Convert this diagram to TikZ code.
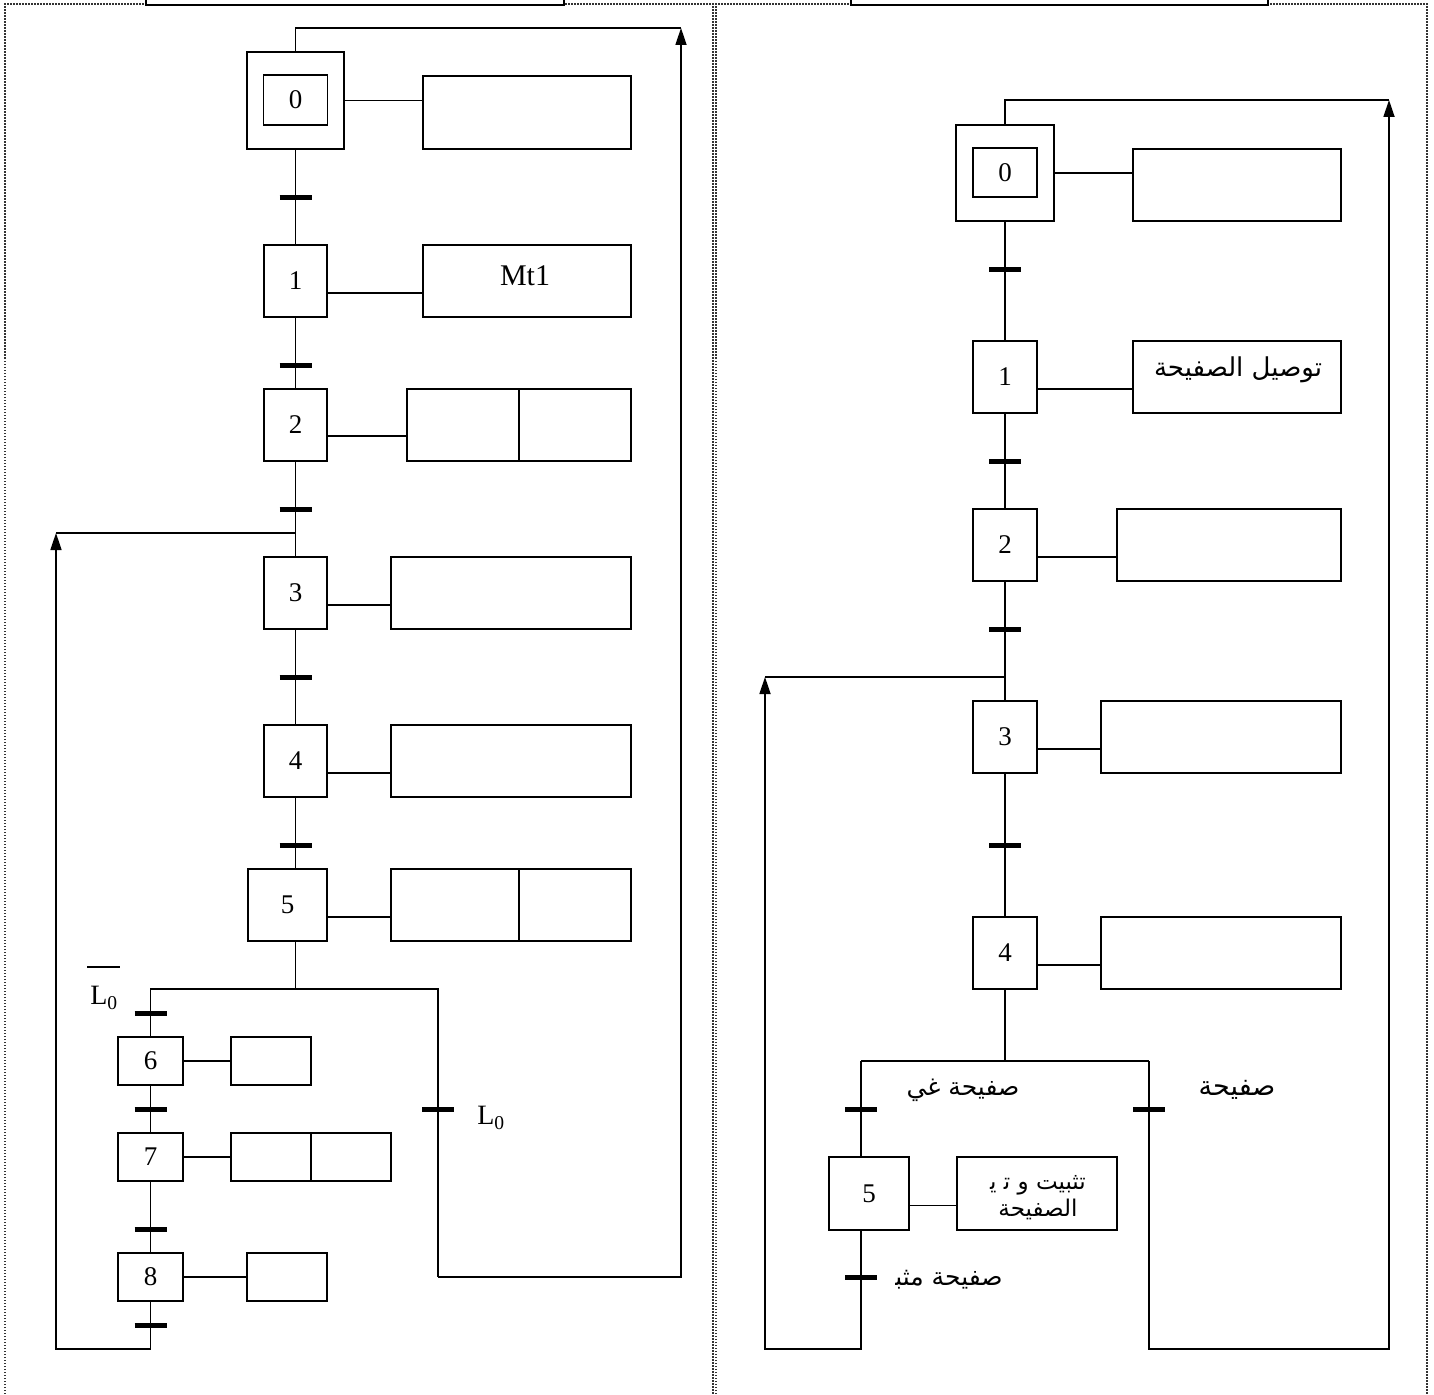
\documentclass[tikz,border=0pt]{standalone}
\usepackage{fontspec}
\setmainfont{Liberation Serif}
\newfontfamily\arabicfont[Script=Arabic]{DejaVu Sans}
\TeXXeTstate=1
\usetikzlibrary{arrows.meta}
\tikzset{
  ln/.style={line width=1.7pt},
  stepbox/.style={draw, line width=1.7pt, inner sep=0pt, font=\fontsize{27}{27}\selectfont},
  trbar/.style={line width=5pt},
  arr/.style={line width=1.7pt, -{Triangle[width=11pt,length=17pt]}},
  frame/.style={line width=1.5pt, dash pattern=on 1.5pt off 1.5pt, black!80},
  hdr/.style={line width=2.5pt, fill=white},
  lbl/.style={inner sep=0pt, font=\fontsize{28}{28}\selectfont},
  ar/.style={inner sep=0pt, font=\arabicfont\fontsize{25}{28}\selectfont, align=center},
}
\newcommand\mkbox[7][]{%
  \pgfmathsetmacro\mkbw{#5-#3}\pgfmathsetmacro\mkbh{#6-#4}%
  \pgfmathsetmacro\mkbcx{(#3+#5)/2}\pgfmathsetmacro\mkbcy{(#4+#6)/2}%
  \node[stepbox,#1,minimum width=\mkbw pt,minimum height=\mkbh pt] (#2) at (\mkbcx,\mkbcy) {#7};}
\newcommand\trn[2]{\draw[trbar] ({#1-16},#2) -- ({#1+16},#2);}
\begin{document}
\begin{tikzpicture}[x=1pt,y=-1pt]
\useasboundingbox (0,0) rectangle (1434,1394);
% frame
\draw[frame] (5,1394) -- (5,4) -- (713,4) -- (713,1394);
\draw[frame] (716,1394) -- (716,4) -- (1427,4) -- (1427,1394);
\draw[hdr] (146,-10) rectangle (564,5);
\draw[hdr] (851,-10) rectangle (1268,5);

% ================= LEFT PANEL =================
\mkbox{L0}{247}{52}{344}{149}{}
\mkbox{L0i}{263.5}{75}{327.5}{125}{0}
\mkbox{A0}{423}{76}{631}{149}{}
\mkbox{L1}{264}{245}{327}{317}{1}
\mkbox{A1}{423}{245}{631}{317}{}
\node[lbl, font=\fontsize{30}{30}\selectfont] (mt) at (525,276) {Mt1};
\mkbox{L2}{264}{389}{327}{461}{2}
\mkbox{A2a}{407}{389}{519}{461}{}
\mkbox{A2b}{519}{389}{631}{461}{}
\mkbox{L3}{264}{557}{327}{629}{3}
\mkbox{A3}{391}{557}{631}{629}{}
\mkbox{L4}{264}{725}{327}{797}{4}
\mkbox{A4}{391}{725}{631}{797}{}
\mkbox{L5}{248}{869}{327}{941}{5}
\mkbox{A5a}{391}{869}{519}{941}{}
\mkbox{A5b}{519}{869}{631}{941}{}
\mkbox{L6}{118}{1037}{183}{1085}{6}
\mkbox{A6}{231}{1037}{311}{1085}{}
\mkbox{L7}{118}{1133}{183}{1181}{7}
\mkbox{A7a}{231}{1133}{311}{1181}{}
\mkbox{A7b}{311}{1133}{391}{1181}{}
\mkbox{L8}{118}{1253}{183}{1301}{8}
\mkbox{A8}{247}{1253}{327}{1301}{}

% links
\draw[ln] (L0.east) -- (L0.east -| A0.west);
\draw[ln] ([yshift=-12pt]L1.east) -- ([yshift=-12pt]A1.west);
\draw[ln] ([yshift=-11pt]L2.east) -- ([yshift=-11pt]A2a.west);
\draw[ln] ([yshift=-12pt]L3.east) -- ([yshift=-12pt]A3.west);
\draw[ln] ([yshift=-12pt]L4.east) -- ([yshift=-12pt]A4.west);
\draw[ln] ([yshift=-12pt]L5.east) -- ([yshift=-12pt]A5a.west);
\draw[ln] (L6.east) -- (A6.west);
\draw[ln] (L7.east) -- (A7a.west);
\draw[ln] (L8.east) -- (A8.west);

% main sequence
\draw[ln] (L0.south) -- (L1.north);
\draw[ln] (L1.south) -- (L2.north);
\draw[ln] (L2.south) -- (L3.north);
\draw[ln] (L3.south) -- (L4.north);
\draw[ln] (L4.south) -- (L4.south |- L5.north);
\coordinate (dL) at (295.5,989);
\coordinate (rbL) at (438,1277);
\coordinate (tL) at (681,28);
\coordinate (lpL) at (56,533);
\coordinate (bL) at (56,1349);
\draw[ln] (L4.south |- L5.south) -- (dL);
\draw[ln] (L6.north) |- (dL);
\draw[ln] (dL) -| (rbL);
\draw[arr] (rbL) -| (tL);
\draw[ln] (tL) -| (L0.north);
\draw[ln] (L6.south) -- (L7.north);
\draw[ln] (L7.south) -- (L8.north);
\draw[arr] (L8.south) |- (bL) -- (lpL);
\draw[ln] (lpL) -- (lpL -| L3.north);

% transitions
\trn{295.5}{197} \trn{295.5}{365} \trn{295.5}{509} \trn{295.5}{677} \trn{295.5}{845}
\trn{150.5}{1013} \trn{150.5}{1109} \trn{150.5}{1229} \trn{150.5}{1325}
\trn{438}{1109}

% labels
\draw[line width=1.4pt] (87,967) -- (120,967);
\node[lbl] (nl0) at (104,998) {L\textsubscript{0}};
\node[lbl] (l0) at (491,1118) {L\textsubscript{0}};

% ================= RIGHT PANEL =================
\mkbox{R0}{956}{125}{1054}{221}{}
\mkbox{R0i}{973}{148}{1037}{197}{0}
\mkbox{B0}{1133}{149}{1341}{221}{}
\mkbox{R1}{973}{341}{1037}{413}{1}
\mkbox{B1}{1133}{341}{1341}{413}{}
\node[ar, font=\arabicfont\fontsize{26}{28}\selectfont] (t1) at (1238,370) {\beginR توصيل الصفيحة\endR};
\mkbox{R2}{973}{509}{1037}{581}{2}
\mkbox{B2}{1117}{509}{1341}{581}{}
\mkbox{R3}{973}{701}{1037}{773}{3}
\mkbox{B3}{1101}{701}{1341}{773}{}
\mkbox{R4}{973}{917}{1037}{989}{4}
\mkbox{B4}{1101}{917}{1341}{989}{}
\mkbox{R5}{829}{1157}{909}{1230}{5}
\mkbox{B5}{957}{1157}{1117}{1230}{}
\node[ar, font=\arabicfont\fontsize{23}{27}\selectfont] (t5) at (1038,1198) {\beginR تثبيت و ت^^^^200d ي^^^^200d\endR\\\beginR الصفيحة\endR};

\draw[ln] (R0.east) -- (R0.east -| B0.west);
\draw[ln] ([yshift=-12pt]R1.east) -- ([yshift=-12pt]B1.west);
\draw[ln] ([yshift=-12pt]R2.east) -- ([yshift=-12pt]B2.west);
\draw[ln] ([yshift=-12pt]R3.east) -- ([yshift=-12pt]B3.west);
\draw[ln] ([yshift=-12pt]R4.east) -- ([yshift=-12pt]B4.west);
\draw[ln] ([yshift=-12pt]R5.east) -- ([yshift=-12pt]B5.west);

\draw[ln] (R0.south) -- (R1.north);
\draw[ln] (R1.south) -- (R2.north);
\draw[ln] (R2.south) -- (R3.north);
\draw[ln] (R3.south) -- (R4.north);
\coordinate (dR) at (1005,1061);
\coordinate (bR1) at (861,1061);
\coordinate (bR2) at (1149,1061);
\coordinate (cR) at (765,1349);
\coordinate (lpR) at (765,677);
\coordinate (cR2) at (1389,1349);
\coordinate (tR) at (1389,100);
\draw[ln] (R4.south) -- (dR);
\draw[ln] (bR1) -- (bR2);
\draw[ln] (bR1) -- (bR1 |- R5.north);
\draw[arr] (bR1 |- R5.south) |- (cR) -- (lpR);
\draw[ln] (lpR) -- (lpR -| R3.north);
\draw[arr] (bR2) |- (cR2) -- (tR);
\draw[ln] (tR) -| (R0.north);

\trn{1005}{269} \trn{1005}{461} \trn{1005}{629} \trn{1005}{845}
\trn{861}{1109} \trn{861}{1277} \trn{1149}{1109}

\node[ar] (g1) at (963,1090) {\beginR صفيحة غي\endR};
\node[ar, font=\arabicfont\fontsize{27}{28}\selectfont] (g2) at (1237,1090) {\beginR صفيحة\endR};
\node[ar] (g3) at (949,1280) {\beginR صفيحة مثب^^^^200d\endR};
\end{tikzpicture}
\end{document}
